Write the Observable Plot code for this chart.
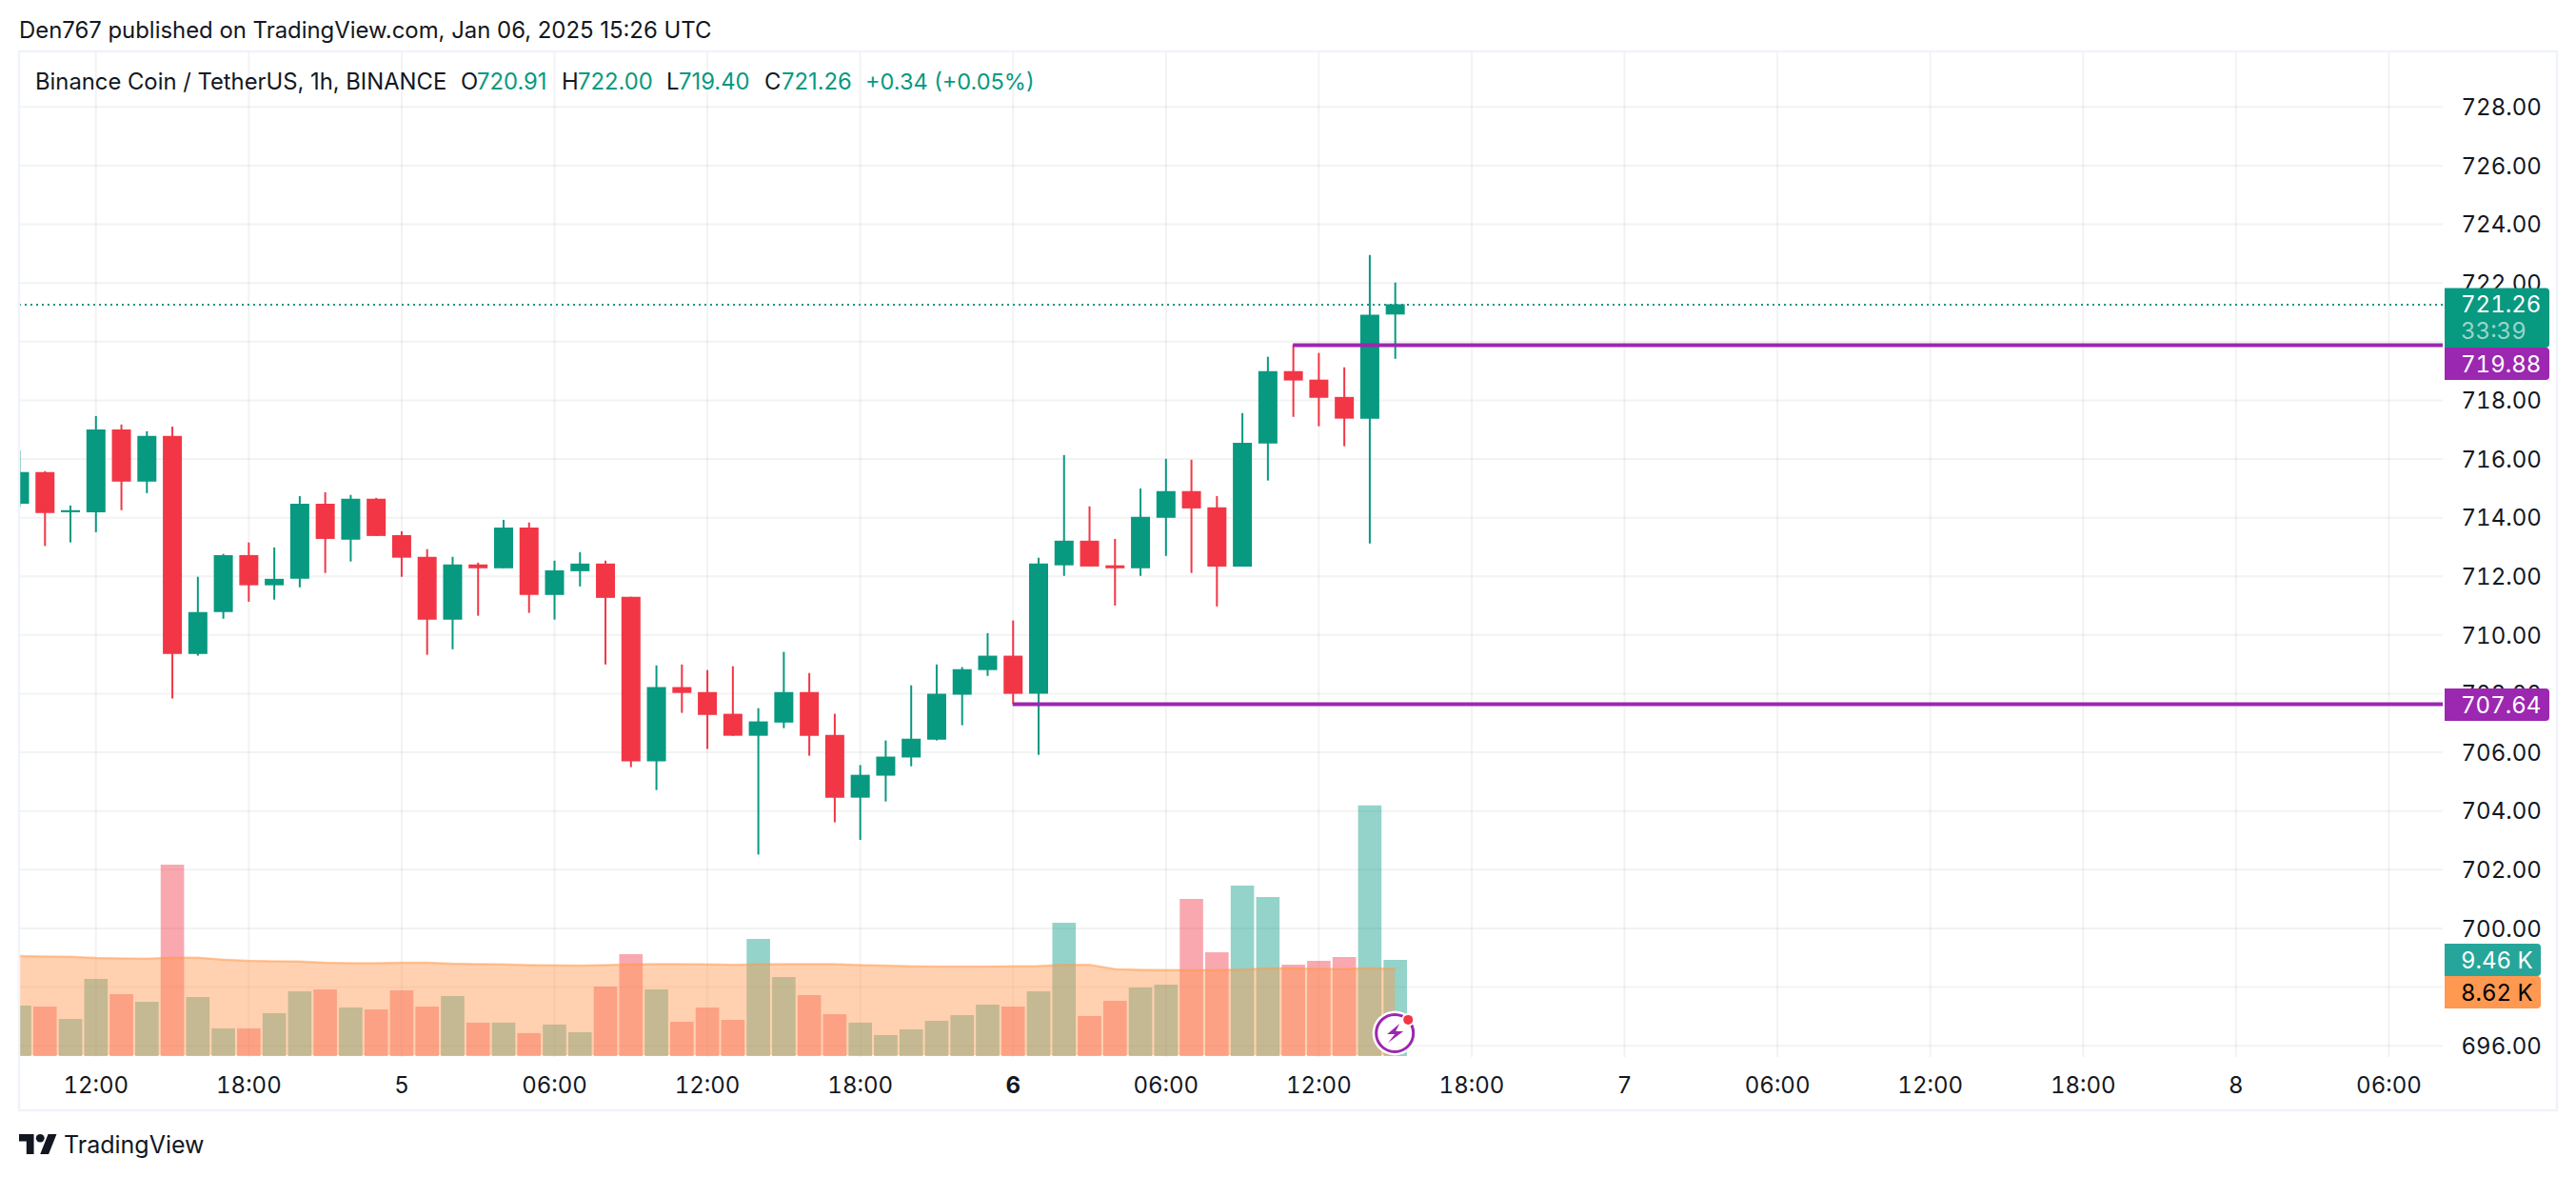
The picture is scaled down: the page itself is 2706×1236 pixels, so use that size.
<!DOCTYPE html>
<html>
<head>
<meta charset="utf-8">
<script src="https://cdn.jsdelivr.net/npm/d3@7"></script>
<script src="https://cdn.jsdelivr.net/npm/@observablehq/plot@0.6"></script>
<style>
html,body{margin:0;padding:0;background:#fff;width:2706px;height:1236px;overflow:hidden;font-family:Inter,"Noto Sans",sans-serif;color:#131722}
#page{position:relative;width:2706px;height:1236px}
#chart{position:absolute;left:0;top:53px}
.t{position:absolute;white-space:pre;line-height:30px;font-size:23.8px}
</style>
</head>
<body>
<div id="page">
  <div class="t" id="pub" style="left:20px;top:17px;font-size:23.9px"></div>
  <div id="chart"></div>
  <svg style="position:absolute;left:20px;top:1189px" width="40" height="23" viewBox="0 0 36 22" preserveAspectRatio="none"><path fill="#131722" d="M14 22H7V9H0V2h14v20zM28 22h-8l7.5-20h8L28 22z"/><circle fill="#131722" cx="20" cy="6" r="4"/></svg>
  <div class="t" id="brand" style="left:67px;top:1187px;font-size:25px;font-weight:400"></div>
</div>
<script>
const publishedLine = "Den767 published on TradingView.com, Jan 06, 2025 15:26 UTC";
const brandName = "TradingView";
const symbolName = "Binance Coin / TetherUS, 1h, BINANCE";
const ohlcKeys = ["O", "H", "L", "C"];
const ohlcValues = ["720.91", "722.00", "719.40", "721.26"];
const changeText = "+0.34 (+0.05%)";

// hourly candles, first one opens 2025-01-04 09:00 UTC
const opens = [714.46,715.54,714.17,714.17,716.99,715.21,716.77,709.34,710.77,712.71,711.68,711.90,714.46,713.23,714.63,713.39,712.65,710.51,712.39,712.26,713.65,711.35,712.16,712.42,711.29,705.68,708.21,708.04,707.30,706.55,707.00,708.04,706.58,704.44,705.19,705.81,706.42,707.95,708.79,709.28,707.98,712.36,713.20,712.36,712.26,713.98,714.89,714.34,712.32,716.51,718.98,718.69,718.10,717.36,720.91];
const highs = [716.27,715.57,714.40,717.45,717.16,716.93,717.09,711.97,712.75,713.14,712.97,714.72,714.85,714.76,714.66,713.52,712.91,712.65,712.45,713.91,713.82,712.52,712.81,712.52,711.29,708.95,708.98,708.79,708.92,707.49,709.41,708.69,707.30,705.55,706.39,708.27,708.98,708.89,710.05,710.48,712.62,716.12,714.37,713.26,714.98,715.99,715.96,714.72,717.55,719.47,719.88,719.60,719.11,722.94,722.00];
const lows = [714.35,713.02,713.14,713.49,714.24,714.82,707.82,709.28,710.54,711.12,711.19,711.61,712.10,712.49,713.36,711.97,709.31,709.50,710.64,712.26,710.74,710.51,711.64,708.98,705.48,704.70,707.33,706.10,706.55,702.50,706.81,705.87,703.60,703.00,704.31,705.51,706.39,706.91,708.59,707.64,705.90,712.00,712.32,710.99,712.00,712.68,712.10,710.96,712.32,715.25,717.42,717.10,716.42,713.10,719.40];
const closes = [715.54,714.14,714.24,716.99,715.21,716.77,709.34,710.77,712.71,711.68,711.90,714.46,713.26,714.63,713.36,712.62,710.51,712.39,712.26,713.65,711.35,712.19,712.42,711.25,705.68,708.21,708.01,707.26,706.55,707.04,708.04,706.55,704.44,705.22,705.84,706.45,707.98,708.82,709.28,707.98,712.42,713.20,712.32,712.26,714.01,714.89,714.30,712.32,716.54,718.98,718.66,718.07,717.36,720.90,721.26];
// volume in thousands, and its moving average
const volumes = [4.96,4.87,3.65,7.59,6.09,5.34,18.83,5.81,2.72,2.72,4.21,6.37,6.56,4.78,4.59,6.46,4.87,5.90,3.28,3.28,2.25,3.09,2.34,6.84,10.02,6.56,3.37,4.78,3.56,11.52,7.77,5.99,4.12,3.28,2.06,2.62,3.47,4.03,5.06,4.87,6.37,13.11,3.93,5.43,6.74,7.02,15.45,10.21,16.77,15.64,8.99,9.37,9.74,24.66,9.46];
const volumeMA = [9.87,9.83,9.80,9.68,9.65,9.62,9.71,9.71,9.52,9.40,9.37,9.33,9.21,9.18,9.18,9.21,9.21,9.12,9.09,9.05,8.99,8.96,8.93,8.99,9.05,9.09,9.09,9.05,9.02,9.05,9.09,9.09,9.09,8.99,8.93,8.87,8.84,8.84,8.84,8.87,8.90,9.02,9.02,8.59,8.52,8.49,8.49,8.49,8.55,8.65,8.68,8.62,8.59,8.68,8.62];

const priceTicks = [696,698,700,702,704,706,708,710,712,714,716,718,720,722,724,726,728];
const timeTickDates = ["2025-01-04T12:00Z","2025-01-04T18:00Z","2025-01-05T00:00Z","2025-01-05T06:00Z","2025-01-05T12:00Z","2025-01-05T18:00Z","2025-01-06T00:00Z","2025-01-06T06:00Z","2025-01-06T12:00Z","2025-01-06T18:00Z","2025-01-07T00:00Z","2025-01-07T06:00Z","2025-01-07T12:00Z","2025-01-07T18:00Z","2025-01-08T00:00Z","2025-01-08T06:00Z"].map(s => new Date(s));
const timeTickLabels = ["12:00","18:00","5","06:00","12:00","18:00","6","06:00","12:00","18:00","7","06:00","12:00","18:00","8","06:00"];
const boldTickLabel = "6";

const lastPrice = 721.26, countdown = "33:39";
const levelPrices = [719.88, 707.64];
const levelStartIndex = [50, 39];
const lastVolumeLabel = "9.46 K", maVolumeLabel = "8.62 K";

const GREEN = "#089981", RED = "#f23645", PURPLE = "#9c27b0", ORANGE = "#ff9850", TEAL = "#26a69a", INK = "#131722";
const start = new Date("2025-01-04T09:00Z"), end = new Date("2025-01-08T08:08Z");
const hourAt = i => d3.utcHour.offset(start, i);

// volume shares the pane: thousands are mapped onto the price axis
const volBase = 695.635, volPerK = 0.3465;
const volY = v => volBase + v * volPerK;

const candles = opens.map((o, i) => ({
  date: hourAt(i), open: o, high: highs[i], low: lows[i], close: closes[i],
  volume: volumes[i], ma: volumeMA[i], color: closes[i] >= o ? GREEN : RED
}));

document.getElementById("pub").textContent = publishedLine;
document.getElementById("brand").textContent = brandName;
const page = document.getElementById("page");
const put = (txt, left, color, size) => {
  const e = document.createElement("div");
  e.className = "t"; e.textContent = txt;
  e.style.left = left + "px"; e.style.top = "71px"; e.style.color = color;
  if (size) e.style.fontSize = size + "px";
  page.appendChild(e);
};
put(symbolName, 37, INK);
[[484,501],[590,607],[700,713],[803,821]].forEach(([a, b], i) => { put(ohlcKeys[i], a, INK); put(ohlcValues[i], b, GREEN); });
put(changeText, 909, GREEN, 23.5);

const gridStyle = {stroke: "#2a2e39", strokeOpacity: 0.06, strokeWidth: 2};

function tagPath(x0, x1, y0, y1, r) {
  return `M${x0} ${y0}H${x1 - r}Q${x1} ${y0} ${x1} ${y0 + r}V${y1 - r}Q${x1} ${y1} ${x1 - r} ${y1}H${x0}Z`;
}
function overlay(index, scales, values, dim) {
  const g = d3.create("svg:g").attr("font-family", "Inter, sans-serif").attr("font-size", 24).attr("text-anchor", "start")
    .style("font-variant-numeric", "tabular-nums");
  const X0 = dim.width - dim.marginRight + 2, TX = dim.width - dim.marginRight + 19;
  const tag = (cy0, cy1, x1, fill, lines) => {
    g.append("path").attr("d", tagPath(X0, x1, cy0, cy1, 4)).attr("fill", fill);
    lines.forEach(l => g.append("text").attr("x", TX).attr("y", l.y).attr("dy", "0.36em")
      .attr("fill", l.color).attr("fill-opacity", l.op ?? 1).text(l.text));
  };
  const y = scales.y;
  const py = y(lastPrice);
  tag(py - 17, py + 45.5, 2678, GREEN, [{text: lastPrice.toFixed(2), y: py, color: "#fff"}, {text: countdown, y: py + 28, color: "#fff", op: 0.6}]);
  const l0 = y(levelPrices[0]) + 20;
  tag(l0 - 17, l0 + 17, 2678, PURPLE, [{text: levelPrices[0].toFixed(2), y: l0, color: "#fff"}]);
  const l1 = y(levelPrices[1]) + 1;
  tag(l1 - 17, l1 + 17, 2678, PURPLE, [{text: levelPrices[1].toFixed(2), y: l1, color: "#fff"}]);
  const v0 = y(volY(volumes[volumes.length - 1]));
  tag(v0 - 17, v0 + 17, 2669, TEAL, [{text: lastVolumeLabel, y: v0, color: "#fff"}]);
  tag(v0 + 17, v0 + 51, 2669, ORANGE, [{text: maVolumeLabel, y: v0 + 34, color: "#000"}]);
  // outer frame of the widget
  g.append("rect").attr("x", 20).attr("y", 1).attr("width", 2666).attr("height", 1112)
    .attr("fill", "none").attr("stroke", "#f0f3fa").attr("stroke-width", 2.5);
  // replay badge on the last bar
  const bx = scales.x(candles[candles.length - 1].date), by = y(volY(2.25));
  g.append("circle").attr("cx", bx).attr("cy", by).attr("r", 23.5).attr("fill", "#fff");
  g.append("circle").attr("cx", bx).attr("cy", by).attr("r", 19.5).attr("fill", "#fff").attr("stroke", PURPLE).attr("stroke-width", 3);
  g.append("path").attr("d", "M5 -10L-8 1L0 1L-7 10L9 -2L1 -2Z").attr("fill", PURPLE).attr("transform", `translate(${bx},${by})`);
  g.append("circle").attr("cx", bx + 14).attr("cy", by - 14).attr("r", 7).attr("fill", "#fff");
  g.append("circle").attr("cx", bx + 14).attr("cy", by - 14).attr("r", 5).attr("fill", RED);
  return g.node();
}

const chart = Plot.plot({
  width: 2706,
  height: 1115,
  marginLeft: 20,
  marginRight: 140,
  marginTop: 2,
  marginBottom: 58,
  style: {background: "transparent", fontFamily: "Inter, sans-serif", color: INK, overflow: "visible"},
  x: {type: "utc", domain: [start, end], label: null},
  y: {domain: [695.6, 729.845], label: null},
  color: {type: "identity"},
  marks: [
    Plot.gridX({ticks: timeTickDates, ...gridStyle}),
    Plot.gridY({ticks: priceTicks, ...gridStyle}),
    Plot.axisY({anchor: "right", ticks: priceTicks, tickSize: 0, tickPadding: 19, dy: 1, tickFormat: d => d.toFixed(2), fontSize: 24, label: null, fill: INK}),
    Plot.axisX({anchor: "bottom", ticks: timeTickDates.filter((d, i) => timeTickLabels[i] !== boldTickLabel), tickSize: 0, tickPadding: 20,
      tickFormat: d => timeTickLabels[timeTickDates.findIndex(t => +t === +d)], fontSize: 24, label: null, fill: INK}),
    Plot.axisX({anchor: "bottom", ticks: timeTickDates.filter((d, i) => timeTickLabels[i] === boldTickLabel), tickSize: 0, tickPadding: 20,
      tickFormat: () => boldTickLabel, fontSize: 24, fontWeight: 700, label: null, fill: INK}),
    // volume
    Plot.ruleX(candles, {x: "date", y1: volBase, y2: d => volY(d.volume), stroke: "color", strokeOpacity: 0.43, strokeWidth: 24.6, clip: true}),
    Plot.areaY(candles, {x: "date", y1: volBase + 0.03, y2: d => volY(d.ma), fill: ORANGE, fillOpacity: 0.45, clip: true}),
    Plot.lineY(candles, {x: "date", y: d => volY(d.ma), stroke: ORANGE, strokeOpacity: 0.45, strokeWidth: 2.5, clip: true}),
    // candles
    Plot.ruleX(candles, {x: "date", y1: "low", y2: "high", stroke: "color", strokeWidth: 2, clip: true}),
    Plot.ruleX(candles, {x: "date", y1: "open", y2: "close", stroke: "color", strokeWidth: 20, clip: true}),
    // last price and levels
    Plot.ruleY([lastPrice], {stroke: GREEN, strokeWidth: 2, strokeDasharray: "2,4", clip: true}),
    Plot.ruleY(levelPrices, {x1: (d, i) => hourAt(levelStartIndex[i]), x2: end, stroke: PURPLE, strokeWidth: 4, clip: true}),
    overlay
  ]
});
document.getElementById("chart").appendChild(chart);
</script>
</body>
</html>
